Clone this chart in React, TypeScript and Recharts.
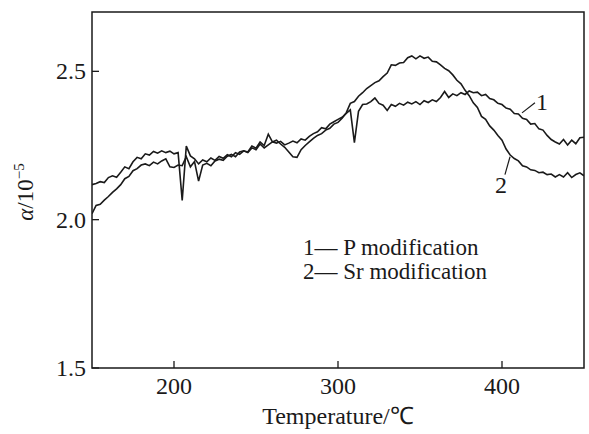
import React from 'react';
import { LineChart, Line, XAxis, YAxis, ReferenceArea, ReferenceLine } from 'recharts';

const temps = [
  150, 152.5, 155, 157.5, 160, 162.5, 165, 167.5, 170, 172.5,
  175, 177.5, 180, 182.5, 185, 187.5, 190, 192.5, 195, 197.5,
  200, 202.5, 205, 207.5, 210, 212.5, 215, 217.5, 220, 222.5,
  225, 227.5, 230, 232.5, 235, 237.5, 240, 242.5, 245, 247.5,
  250, 252.5, 255, 257.5, 260, 262.5, 265, 267.5, 270, 272.5,
  275, 277.5, 280, 282.5, 285, 287.5, 290, 292.5, 295, 297.5,
  300, 302.5, 305, 307.5, 310, 312.5, 315, 317.5, 320, 322.5,
  325, 327.5, 330, 332.5, 335, 337.5, 340, 342.5, 345, 347.5,
  350, 352.5, 355, 357.5, 360, 362.5, 365, 367.5, 370, 372.5,
  375, 377.5, 380, 382.5, 385, 387.5, 390, 392.5, 395, 397.5,
  400, 402.5, 405, 407.5, 410, 412.5, 415, 417.5, 420, 422.5,
  425, 427.5, 430, 432.5, 435, 437.5, 440, 442.5, 445, 447.5,
  450,
];

// curve 1 — P modification
const pModification = [
  2.118, 2.122, 2.128, 2.125, 2.142, 2.148, 2.143, 2.16, 2.178, 2.172,
  2.195, 2.21, 2.205, 2.222, 2.218, 2.23, 2.224, 2.232, 2.226, 2.231,
  2.222, 2.226, 2.065, 2.248, 2.215, 2.205, 2.188, 2.201, 2.195, 2.208,
  2.2, 2.213, 2.207, 2.219, 2.212, 2.226, 2.22, 2.232, 2.228, 2.248,
  2.241, 2.262, 2.25, 2.288, 2.262, 2.258, 2.264, 2.252, 2.258, 2.265,
  2.259, 2.272, 2.268, 2.281, 2.29, 2.296, 2.31, 2.306, 2.322, 2.33,
  2.338, 2.345, 2.358, 2.37, 2.26, 2.365, 2.388, 2.39, 2.398, 2.41,
  2.392, 2.386, 2.368, 2.388, 2.382, 2.392, 2.386, 2.396, 2.39, 2.398,
  2.388, 2.401, 2.395, 2.404, 2.398, 2.412, 2.432, 2.412, 2.424, 2.418,
  2.428, 2.422, 2.434, 2.428, 2.43, 2.418, 2.422, 2.408, 2.404, 2.392,
  2.388, 2.376, 2.372, 2.358, 2.356, 2.342, 2.338, 2.322, 2.324, 2.306,
  2.302, 2.284, 2.27, 2.262, 2.255, 2.27, 2.252, 2.268, 2.256, 2.276,
  2.278,
];

// curve 2 — Sr modification
const srModification = [
  2.02, 2.048, 2.052, 2.066, 2.078, 2.092, 2.104, 2.118, 2.138, 2.146,
  2.165, 2.172, 2.184, 2.188, 2.182, 2.194, 2.188, 2.198, 2.205, 2.178,
  2.176, 2.184, 2.182, 2.212, 2.178, 2.196, 2.13, 2.184, 2.19, 2.182,
  2.198, 2.204, 2.2, 2.214, 2.22, 2.212, 2.228, 2.232, 2.226, 2.242,
  2.236, 2.255, 2.242, 2.252, 2.262, 2.268, 2.255, 2.244, 2.228, 2.212,
  2.21, 2.236, 2.25, 2.262, 2.274, 2.284, 2.29, 2.302, 2.308, 2.322,
  2.328, 2.342, 2.36, 2.392, 2.398, 2.416, 2.428, 2.442, 2.452, 2.462,
  2.468, 2.482, 2.494, 2.522, 2.52, 2.528, 2.53, 2.546, 2.552, 2.542,
  2.552, 2.544, 2.548, 2.534, 2.532, 2.522, 2.51, 2.502, 2.488, 2.47,
  2.458, 2.436, 2.418, 2.394, 2.378, 2.348, 2.338, 2.316, 2.302, 2.284,
  2.268, 2.238, 2.218, 2.206, 2.198, 2.182, 2.178, 2.168, 2.166, 2.158,
  2.16, 2.152, 2.154, 2.144, 2.152, 2.144, 2.158, 2.142, 2.152, 2.158,
  2.148,
];

const xTicks = [200, 300, 400];
const yTicks = [1.5, 2.0, 2.5];
const xDomain = [150, 450];
const yDomain = [1.5, 2.7];
const legendItems = ['1\u2014 P modification', '2\u2014 Sr modification'];
const curveLabels = ['1', '2'];
const leader1 = [{ x: 412.2, y: 2.36 }, { x: 420.1, y: 2.394 }];
const leader2 = [{ x: 404.9, y: 2.212 }, { x: 401.8, y: 2.152 }];

const data = temps.map((t, i) => ({ t, p: pModification[i], sr: srModification[i] }));

const FONT = '"Liberation Serif", "Times New Roman", Times, serif';
const INK = '#1a1a1a';

const XTick = (props: any) => {
  const { x, y, payload } = props;
  return (
    <g>
      <line x1={x} y1={y} x2={x} y2={y - 7} stroke={INK} strokeWidth={1.3} />
      <text x={x} y={y + 26} textAnchor="middle" fontFamily={FONT} fontSize={24} fill={INK}>
        {payload.value}
      </text>
    </g>
  );
};

const YTick = (props: any) => {
  const { x, y, payload } = props;
  return (
    <g>
      <line x1={x} y1={y} x2={x + 7} y2={y} stroke={INK} strokeWidth={1.3} />
      <text x={x - 6} y={y + 8} textAnchor="end" fontFamily={FONT} fontSize={24} fill={INK}>
        {Number(payload.value).toFixed(1)}
      </text>
    </g>
  );
};

export default function App() {
  return (
    <div style={{ position: 'absolute', left: 0, top: 0, width: 589, height: 434, background: '#fff' }}>
      <LineChart
        width={589}
        height={434}
        data={data}
        margin={{ top: 12, right: 5, bottom: 26, left: 32 }}
      >
        <XAxis
          dataKey="t"
          type="number"
          domain={xDomain}
          ticks={xTicks}
          interval={0}
          allowDataOverflow
          axisLine={false}
          tickLine={false}
          tickSize={0}
          tickMargin={0}
          height={40}
          tick={(p: any) => <XTick {...p} />}
        />
        <YAxis
          type="number"
          domain={yDomain}
          ticks={yTicks}
          interval={0}
          allowDataOverflow
          axisLine={false}
          tickLine={false}
          tickSize={0}
          tickMargin={0}
          width={60}
          tick={(p: any) => <YTick {...p} />}
        />
        <ReferenceArea
          x1={xDomain[0]}
          x2={xDomain[1]}
          y1={yDomain[0]}
          y2={yDomain[1]}
          fill="none"
          fillOpacity={0}
          stroke={INK}
          strokeWidth={1.5}
        />
        <Line type="linear" dataKey="p" stroke={INK} strokeWidth={1.6} dot={false} isAnimationActive={false} />
        <Line type="linear" dataKey="sr" stroke={INK} strokeWidth={1.6} dot={false} isAnimationActive={false} />
        <ReferenceLine segment={leader1} stroke={INK} strokeWidth={1.2} />
        <ReferenceLine segment={leader2} stroke={INK} strokeWidth={1.2} />
      </LineChart>
      <svg
        width={589}
        height={434}
        style={{ position: 'absolute', left: 0, top: 0, pointerEvents: 'none' }}
        fontFamily={FONT}
        fill={INK}
      >
        <text x={542} y={110} textAnchor="middle" fontSize={24}>{curveLabels[0]}</text>
        <text x={501} y={193} textAnchor="middle" fontSize={24}>{curveLabels[1]}</text>
        <text x={303} y={255} fontSize={23}>{legendItems[0]}</text>
        <text x={303} y={279} fontSize={23}>{legendItems[1]}</text>
        <text x={338} y={424} textAnchor="middle" fontSize={24}>Temperature/℃</text>
        <text transform="translate(33,192) rotate(-90)" textAnchor="middle" fontSize={23}>
          <tspan fontStyle="italic">α</tspan>
          <tspan>/10</tspan>
          <tspan dy={-9} fontSize={15}>−5</tspan>
        </text>
      </svg>
    </div>
  );
}
